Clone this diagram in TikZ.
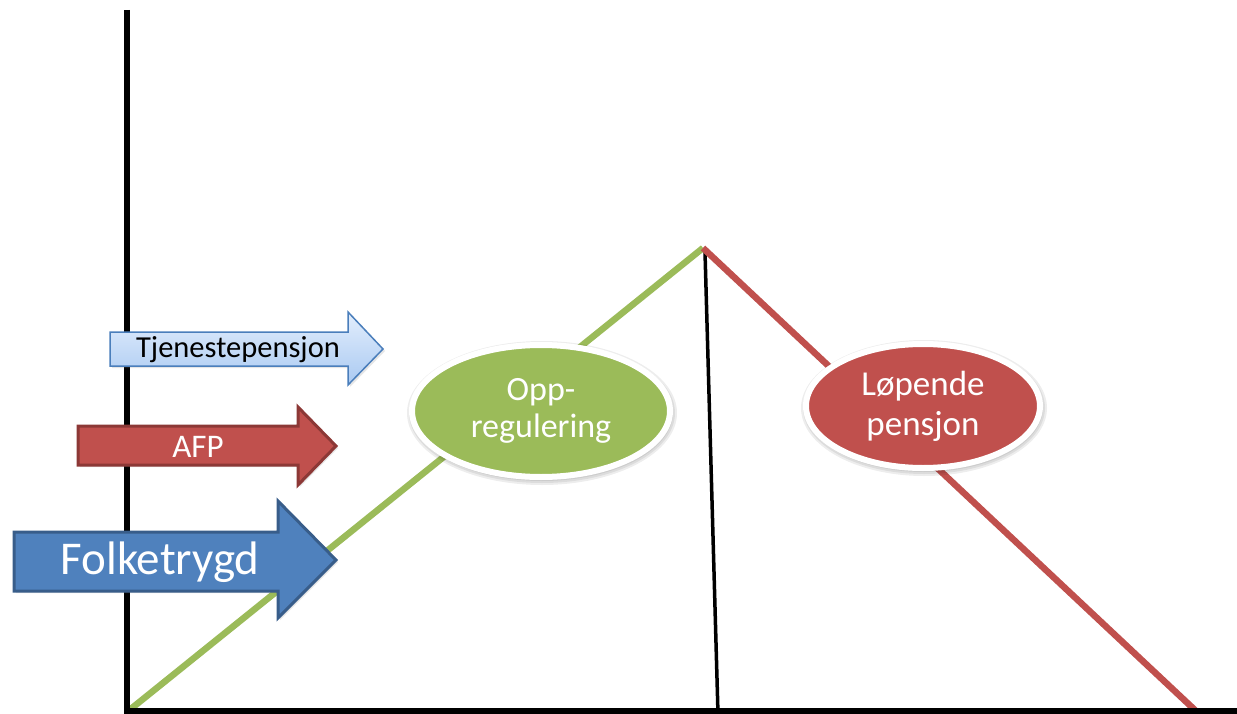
\documentclass[tikz,border=0pt]{standalone}
\usepackage{fontspec}
\setmainfont{Carlito}
\usetikzlibrary{shadows,shapes.geometric}
\definecolor{ogreen}{HTML}{9BBB59}
\definecolor{ored}{HTML}{C0504D}
\definecolor{oreddark}{HTML}{8C3836}
\definecolor{oblue}{HTML}{4F81BD}
\definecolor{obluedark}{HTML}{385D8A}
\definecolor{lbtop}{HTML}{E3EEFC}
\definecolor{lbbot}{HTML}{A9C9F2}
\definecolor{lbedge}{HTML}{4A7EBB}
\begin{document}
\begin{tikzpicture}[x=1pt,y=-1pt,
  axisline/.style={line width=6.5pt, draw=black},
  thinaxis/.style={line width=3.5pt, draw=black},
  riseline/.style={line width=6.5pt, draw=ogreen},
  fallline/.style={line width=6.5pt, draw=ored},
  arrowshape/.style={line join=miter, drop shadow={opacity=0.2, shadow xshift=2pt, shadow yshift=-2pt}},
  bubble/.style={ellipse, draw=white, line width=6pt, text=white, align=center},
  glow/.style={ellipse, fill=black, fill opacity=0.07, draw=none},
  lbl/.style={inner sep=0pt}
]
\useasboundingbox (0,0) rectangle (1237,714);
% axes
\coordinate (origin) at (127,712);
\coordinate (ytop) at (127,10);
\coordinate (ybot) at (127,714);
\coordinate (xstart) at (124,711);
\coordinate (xend) at (1237,711);
\coordinate (peak) at (703,248);
\coordinate (thintop) at (705,252);
\coordinate (thinbot) at (718,714);
\coordinate (fallend) at (1197,712);
\draw[thinaxis] (thintop) -- (thinbot);
\draw[riseline] (origin) -- (peak);
\draw[fallline] (peak) -- (fallend);
\draw[axisline] (ytop) -- (ybot);
\draw[axisline] (xstart) -- (xend);
% arrows
\path[arrowshape, draw=lbedge, top color=lbtop, bottom color=lbbot, line width=1.5pt]
  (110,332) -- (348,332) -- (348,312) -- (383,349) -- (348,385) -- (348,366) -- (110,366) -- cycle;
\node[lbl, font=\fontsize{30.5}{30.5}\selectfont] (tjp) at (238,350) {Tjenestepensjon};
\path[arrowshape, draw=oreddark, fill=ored, line width=3pt]
  (78,426) -- (298,426) -- (298,407) -- (336,446) -- (298,485) -- (298,465) -- (78,465) -- cycle;
\node[lbl, font=\fontsize{33}{33}\selectfont, text=white] (afp) at (198,447) {AFP};
\path[arrowshape, draw=obluedark, fill=oblue, line width=3pt]
  (14,532) -- (278,532) -- (278,501) -- (336,560) -- (278,618) -- (278,591) -- (14,591) -- cycle;
\node[lbl, font=\fontsize{47}{47}\selectfont, text=white] (ft) at (160,562) {Folketrygd};
% ellipse glows (soft shadow)
\foreach \g in {4,8,12}{
  \node[glow, minimum width=258pt+\g pt, minimum height=132pt+\g pt] at (542,413) {};
  \node[glow, minimum width=234pt+\g pt, minimum height=124pt+\g pt] at (924,408) {};
}
% ellipses
\node[bubble, fill=ogreen, minimum width=258pt, minimum height=132pt,
      font=\fontsize{34}{37}\selectfont] (opp) at (541,411) {Opp-\\regulering};
\node[bubble, fill=ored, minimum width=234pt, minimum height=124pt,
      font=\fontsize{35}{40}\selectfont] (lop) at (923,406) {Løpende\\pensjon};
\end{tikzpicture}
\end{document}
